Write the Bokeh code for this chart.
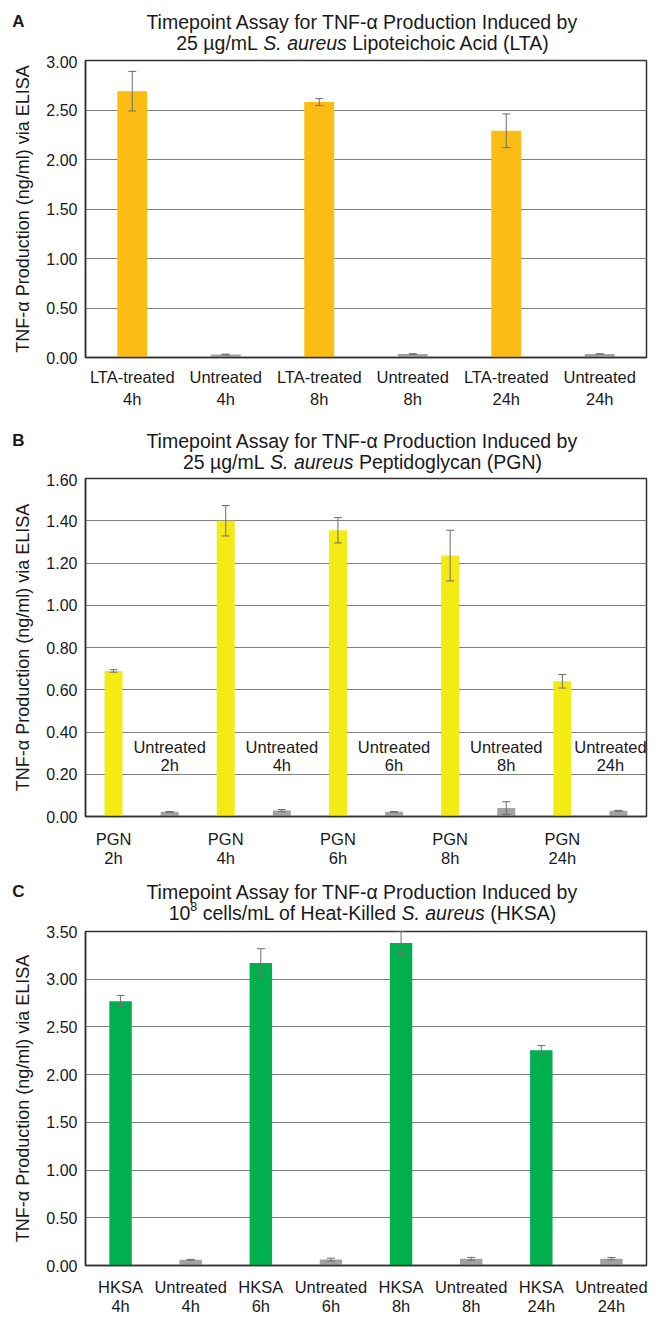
import glob
from bokeh.plotting import figure
from bokeh.models import (Range1d, FixedTicker, NumeralTickFormatter, Whisker, TeeHead,
                          ColumnDataSource, CustomJSTickFormatter)
from bokeh.layouts import column
from bokeh.embed import file_html
from bokeh.resources import INLINE
from bokeh.core.properties import value

# ---------------- data ----------------
a_categories = ["LTA-treated\n4h", "Untreated\n4h", "LTA-treated\n8h", "Untreated\n8h",
                "LTA-treated\n24h", "Untreated\n24h"]
a_values = [2.69, 0.030, 2.58, 0.035, 2.29, 0.035]
a_errors = [0.20, 0.004, 0.035, 0.003, 0.17, 0.003]
a_ticks = [0.0, 0.5, 1.0, 1.5, 2.0, 2.5, 3.0]

b_categories = ["PGN\n2h", "Untreated\n2h", "PGN\n4h", "Untreated\n4h", "PGN\n6h",
                "Untreated\n6h", "PGN\n8h", "Untreated\n8h", "PGN\n24h", "Untreated\n24h"]
b_values = [0.689, 0.022, 1.40, 0.028, 1.355, 0.022, 1.235, 0.040, 0.640, 0.027]
b_errors = [0.006, 0.002, 0.072, 0.005, 0.060, 0.002, 0.120, 0.030, 0.032, 0.002]
b_ticks = [0.0, 0.2, 0.4, 0.6, 0.8, 1.0, 1.2, 1.4, 1.6]

c_categories = ["HKSA\n4h", "Untreated\n4h", "HKSA\n6h", "Untreated\n6h", "HKSA\n8h",
                "Untreated\n8h", "HKSA\n24h", "Untreated\n24h"]
c_values = [2.77, 0.060, 3.17, 0.062, 3.38, 0.070, 2.255, 0.072]
c_errors = [0.06, 0.004, 0.15, 0.015, 0.12, 0.015, 0.05, 0.012]
c_ticks = [0.0, 0.5, 1.0, 1.5, 2.0, 2.5, 3.0, 3.5]

y_label = "TNF-\u03b1 Production (ng/ml) via ELISA"
title_line1 = "Timepoint Assay for TNF-\u03b1 Production Induced by"

# ---------------- styling ----------------
FONT = "Liberation Sans"
TXT = "#1a1a1a"
GRAY_BAR = "#a3a3a3"
ERR = "#6e6e6e"
GRID = "#808080"
FRAME = "#333333"
TITLE_SIZE = 19.5
W = 652


def find_font(name):
    hits = glob.glob("/usr/share/fonts/**/" + name, recursive=True)
    return hits[0] if hits else None


FONT_FILES = {"normal": find_font("LiberationSans-Regular.ttf"),
              "italic": find_font("LiberationSans-Italic.ttf")}


def text_width(text, size, style="normal"):
    path = FONT_FILES.get(style)
    if path:
        try:
            from PIL import ImageFont
            f = ImageFont.truetype(path, 100)
            return f.getlength(text) * size / 100.0
        except Exception:
            pass
    return len(text) * size * 0.5


def title_fig(height, letter, cx, y1, y2, segments, letter_y):
    t = figure(width=W, height=height, x_range=Range1d(0, W), y_range=Range1d(height, 0),
               min_border=0, x_axis_type=None, y_axis_type=None, toolbar_location=None,
               output_backend="svg")
    try:
        t.frame_align = False
    except Exception:
        pass
    t.outline_line_color = None
    t.background_fill_color = "white"
    t.border_fill_color = "white"
    t.grid.visible = False

    def put(x, y, txt, size, style="normal", align="left"):
        t.text(x=[x], y=[y], text=[txt], text_font=value(FONT),
               text_font_size=value(f"{size}px"), text_font_style=style,
               text_align=align, text_baseline="middle", text_color=TXT)

    put(18, letter_y, letter, 17, style="bold", align="center")
    put(cx, y1, title_line1, TITLE_SIZE, align="center")
    space = text_width(" ", TITLE_SIZE)
    total = 0
    for txt, style, size, dy, sp in segments:
        total += (space if sp else 0) + text_width(txt, size, style)
    x = cx - total / 2
    for txt, style, size, dy, sp in segments:
        if sp:
            x += space
        put(x, y2 + dy, txt, size, style=style)
        x += text_width(txt, size, style)
    return t


def make_panel(cats, vals, errs, ticks, color, height, b_left, b_right, b_top, b_bottom,
               label_standoff, label_lh):
    p = figure(x_range=cats, y_range=Range1d(ticks[0], ticks[-1]), width=W, height=height,
               output_backend="svg", toolbar_location=None,
               min_border_left=b_left, min_border_right=b_right,
               min_border_top=b_top, min_border_bottom=b_bottom)
    colors = [GRAY_BAR if c.startswith("Untreated") else color for c in cats]
    src = ColumnDataSource(dict(x=cats, top=vals, color=colors,
                                upper=[v + e for v, e in zip(vals, errs)],
                                lower=[v - e for v, e in zip(vals, errs)]))
    p.vbar(x="x", top="top", width=0.32, source=src, fill_color="color", line_color=None)
    w = Whisker(base="x", upper="upper", lower="lower", source=src, line_color=ERR,
                line_width=1,
                upper_head=TeeHead(size=8, line_color=ERR, line_width=1),
                lower_head=TeeHead(size=8, line_color=ERR, line_width=1))
    w.level = "overlay"
    p.add_layout(w)

    p.background_fill_color = "white"
    p.border_fill_color = "white"
    p.outline_line_color = FRAME
    p.outline_line_width = 1.5
    p.xgrid.visible = False
    p.ygrid.grid_line_color = GRID
    p.ygrid.grid_line_width = 1.2

    p.yaxis.ticker = FixedTicker(ticks=ticks)
    p.yaxis.formatter = NumeralTickFormatter(format="0.00")
    p.yaxis.axis_label = y_label
    p.yaxis.axis_label_text_font = FONT
    p.yaxis.axis_label_text_font_size = "18px"
    p.yaxis.axis_label_text_font_style = "normal"
    p.yaxis.axis_label_text_color = TXT
    p.yaxis.axis_label_standoff = 10
    p.yaxis.major_label_standoff = 2

    for ax in (p.xaxis, p.yaxis):
        ax.axis_line_color = FRAME
        ax.axis_line_width = 1.5
        ax.major_tick_line_color = None
        ax.minor_tick_line_color = None
        ax.major_label_text_font = FONT
        ax.major_label_text_color = TXT
    p.yaxis.major_label_text_font_size = "16px"
    p.xaxis.major_label_text_font_size = "16.5px"
    p.xaxis.major_label_text_line_height = label_lh
    p.xaxis.major_label_standoff = label_standoff
    return p


TITLE_CX = 362

# Panel A  (title 0-55, plot 55-428)
ta = title_fig(55, "A", TITLE_CX, 21, 42,
               [("25 \u00b5g/mL", "normal", TITLE_SIZE, 0, False),
                ("S. aureus", "italic", TITLE_SIZE, 0, True),
                ("Lipoteichoic Acid (LTA)", "normal", TITLE_SIZE, 0, True)], 21)
pa = make_panel(a_categories, a_values, a_errors, a_ticks, "#FBBC13", 373, 85, 6, 5, 71,
                4, 1.25)

# Panel B  (title 428-473, plot 473-872)
tb = title_fig(45, "B", TITLE_CX, 12, 33,
               [("25 \u00b5g/mL", "normal", TITLE_SIZE, 0, False),
                ("S. aureus", "italic", TITLE_SIZE, 0, True),
                ("Peptidoglycan (PGN)", "normal", TITLE_SIZE, 0, True)], 12)
pb = make_panel(b_categories, b_values, b_errors, b_ticks, "#F4EA14", 399, 84, 2, 5, 56,
                7, 1.1)
pb.xaxis.formatter = CustomJSTickFormatter(
    code="return String(tick).startsWith('Untreated') ? ' ' : String(tick);")
untreated_b = [c for c in b_categories if c.startswith("Untreated")]
pb.text(x=untreated_b, y=[0.285] * len(untreated_b), text=untreated_b,
        x_offset=[0, 0, 0, 0, -8],
        text_font=value(FONT), text_font_size="16.5px", text_color=TXT,
        text_align="center", text_baseline="middle", text_line_height=1.0)

# Panel C  (title 872-925, plot 925-1318)
tc = title_fig(53, "C", TITLE_CX, 19, 40,
               [("10", "normal", TITLE_SIZE, 0, False),
                ("8", "normal", 12.5, -6, False),
                ("cells/mL of Heat-Killed", "normal", TITLE_SIZE, 0, True),
                ("S. aureus", "italic", TITLE_SIZE, 0, True),
                ("(HKSA)", "normal", TITLE_SIZE, 0, True)], 19)
pc = make_panel(c_categories, c_values, c_errors, c_ticks, "#00B04F", 393, 84, 2, 6, 52,
                6, 1.1)

layout = column(ta, pa, tb, pb, tc, pc)
open("out.html", "w").write(file_html(layout, INLINE))
